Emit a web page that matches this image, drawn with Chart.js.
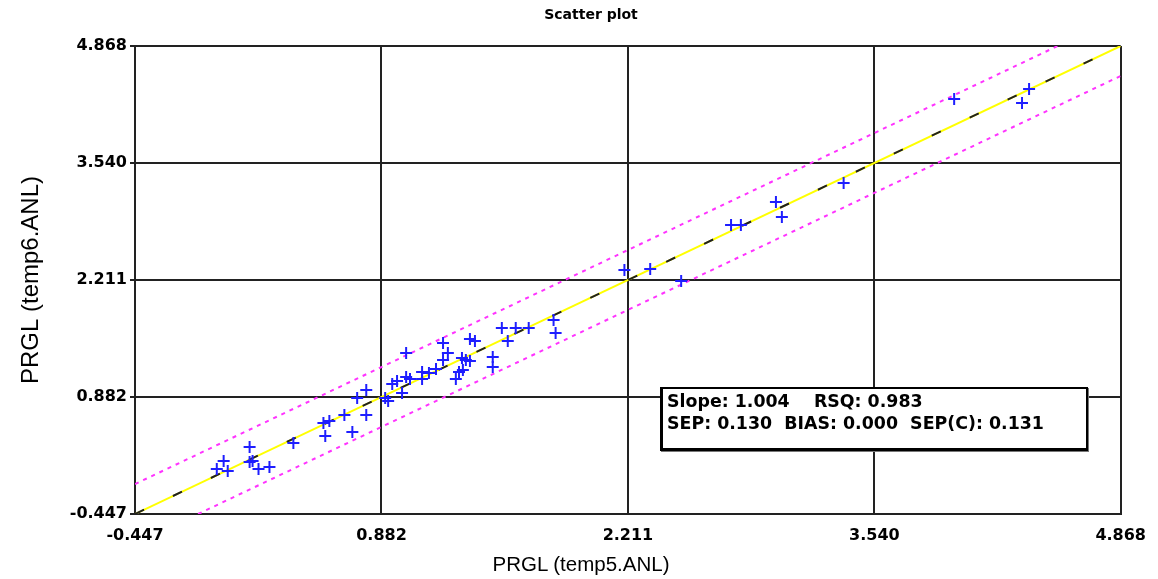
<!DOCTYPE html>
<html>
<head>
<meta charset="utf-8">
<script src="https://cdn.jsdelivr.net/npm/chart.js@4.4.1/dist/chart.umd.min.js"></script>
<style>
  body { margin: 0; background: #fff; }
  .wrap { position: relative; width: 1158px; height: 579px; }
  .title { position: absolute; top: 6px; left: 491px; width: 200px; text-align: center;
    font: bold 14px "DejaVu Sans"; color: #000; }
  .xtitle { position: absolute; top: 552px; left: 431px; width: 300px; text-align: center;
    font: 20.5px "Liberation Sans"; color: #000; }
  .stats { position: absolute; left: 660px; top: 387px; width: 428px; height: 64px; box-sizing: border-box;
    background: #fff; border: 2px solid #000; border-left-width: 3px; border-bottom-width: 3px;
    box-shadow: 1px 1px 0 #777; padding: 1px 0 0 4px;
    font: bold 17.4px "DejaVu Sans"; line-height: 22px; white-space: pre; color: #000; }
</style>
</head>
<body>
<div class="wrap">
  <canvas id="myChart" width="1158" height="579"></canvas>
  <div class="title">Scatter plot</div>
  <div class="xtitle">PRGL (temp5.ANL)</div>
  <div class="stats">Slope: 1.004    RSQ: 0.983
SEP: 0.130  BIAS: 0.000  SEP(C): 0.131</div>
</div>
<script>
// axis ticks (same on both axes)
const tickValues = [-0.447, 0.882, 2.211, 3.540, 4.868];

// measured vs predicted
const xValues = [
  -0.006, 0.031, 0.053, 0.171, 0.171, 0.187, 0.219, 0.278, 0.407, 0.569,
  0.601, 0.579, 0.682, 0.725, 0.800, 0.751, 0.800, 0.902, 0.918, 0.940,
  0.966, 0.993, 1.015, 1.036, 1.015, 1.101, 1.101, 1.138, 1.176, 1.214,
  1.240, 1.214, 1.283, 1.300, 1.321, 1.316, 1.337, 1.359, 1.359, 1.386,
  1.482, 1.482, 1.531, 1.563, 1.606, 1.676, 1.810, 1.821, 2.192, 2.331,
  2.498, 2.767, 2.820, 3.009, 3.041, 3.374, 3.970, 4.374, 4.336
];
const yValues = [
  0.064, 0.155, 0.041, 0.314, 0.144, 0.155, 0.064, 0.087, 0.359, 0.587,
  0.609, 0.439, 0.677, 0.484, 0.677, 0.870, 0.961, 0.870, 0.836, 1.029,
  1.064, 0.927, 1.109, 1.086, 1.382, 1.166, 1.086, 1.154, 1.200, 1.495,
  1.382, 1.302, 1.086, 1.166, 1.188, 1.325, 1.302, 1.291, 1.541, 1.518,
  1.336, 1.223, 1.665, 1.518, 1.665, 1.665, 1.756, 1.609, 2.324, 2.336,
  2.199, 2.835, 2.835, 3.096, 2.926, 3.312, 4.266, 4.380, 4.221
];

// 1:1 line and prediction band
const axisMin = -0.447;
const axisMax = 4.868;
const bandOffset = 0.34;

const points = xValues.map((x, i) => ({x: x, y: yValues[i]}));
const fitLine = [{x: axisMin, y: axisMin}, {x: axisMax, y: axisMax}];
const upperBand = [{x: axisMin, y: axisMin + bandOffset}, {x: axisMax - bandOffset, y: axisMax}];
const lowerBand = [{x: axisMin + bandOffset, y: axisMin}, {x: axisMax, y: axisMax - bandOffset}];

const setTicks = scale => { scale.ticks = tickValues.map(v => ({value: v})); };
const tickFont = {family: "DejaVu Sans", size: 16, weight: "bold"};
const gridStyle = {color: "#222", lineWidth: 2};

const config = {
  type: "scatter",
  data: {
    datasets: [
      {
        data: points,
        pointStyle: "cross",
        pointRadius: 6,
        borderColor: "rgb(30,30,255)",
        borderWidth: 2,
        order: 0
      },
      {
        type: "line", data: fitLine, showLine: true, pointRadius: 0,
        borderColor: "#202020", borderWidth: 2, borderDash: [10, 32], order: 1
      },
      {
        type: "line", data: fitLine, showLine: true, pointRadius: 0,
        borderColor: "#ffff00", borderWidth: 2, order: 2
      },
      {
        type: "line", data: upperBand, showLine: true, pointRadius: 0,
        borderColor: "#ff33ff", borderWidth: 2, borderDash: [4, 5], order: 3
      },
      {
        type: "line", data: lowerBand, showLine: true, pointRadius: 0,
        borderColor: "#ff33ff", borderWidth: 2, borderDash: [4, 5], order: 3
      }
    ]
  },
  options: {
    responsive: false,
    animation: false,
    layout: {padding: {top: 46, right: 34, bottom: 0, left: 0}},
    plugins: {legend: {display: false}, tooltip: {enabled: false}},
    scales: {
      x: {
        type: "linear", min: axisMin, max: axisMax,
        afterBuildTicks: setTicks,
        afterFit: s => { s.height = 65; },
        ticks: {font: tickFont, color: "#000", padding: 12, maxRotation: 0,
          callback: v => v.toFixed(3)},
        grid: {...gridStyle, tickLength: 0},
        border: {color: "#222", width: 2}
      },
      y: {
        type: "linear", min: axisMin, max: axisMax,
        afterBuildTicks: setTicks,
        afterFit: s => { s.width = 135; },
        ticks: {font: tickFont, color: "#000", padding: 3,
          callback: v => v.toFixed(3)},
        grid: {...gridStyle, tickLength: 5},
        border: {color: "#222", width: 2},
        title: {display: true, text: "PRGL (temp6.ANL)", color: "#000",
          font: {family: "Liberation Sans", size: 24}, padding: {top: 17, bottom: 0}}
      }
    }
  }
};

const myChart = new Chart(document.getElementById("myChart"), config);
</script>
</body>
</html>
